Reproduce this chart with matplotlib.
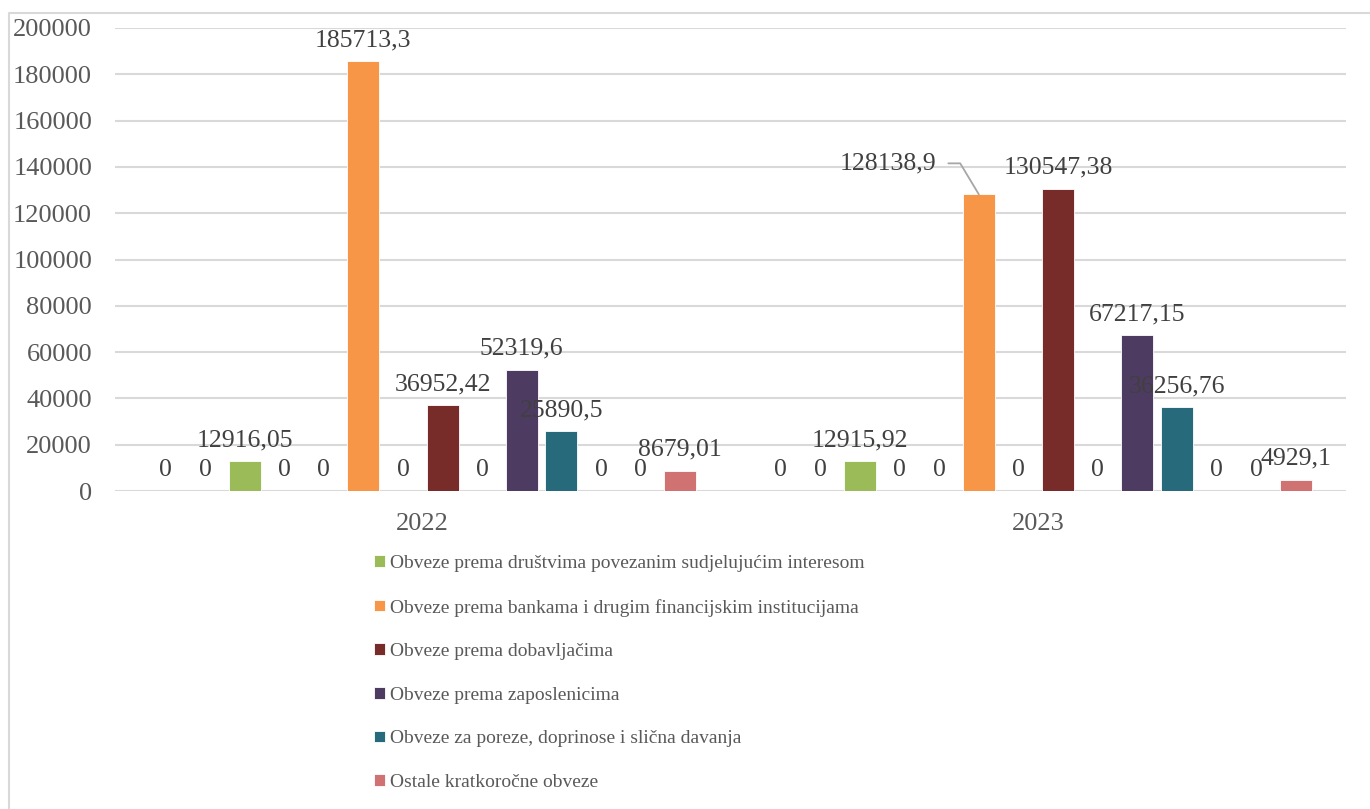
import numpy as np
import matplotlib
matplotlib.use("Agg")
import matplotlib.pyplot as plt
from matplotlib.lines import Line2D

plt.rcParams['font.family'] = ['Liberation Serif', 'DejaVu Serif']

# Data
years = ['2022', '2023']
series_names = [
    '', '',
    'Obveze prema društvima povezanim sudjelujućim interesom',
    '', '',
    'Obveze prema bankama i drugim financijskim institucijama',
    '',
    'Obveze prema dobavljačima',
    '',
    'Obveze prema zaposlenicima',
    'Obveze za poreze, doprinose i slična davanja',
    '', '',
    'Ostale kratkoročne obveze',
]
values_2022 = [0, 0, 12916.05, 0, 0, 185713.3, 0, 36952.42, 0, 52319.6, 25890.5, 0, 0, 8679.01]
values_2023 = [0, 0, 12915.92, 0, 0, 128138.9, 0, 130547.38, 0, 67217.15, 36256.76, 0, 0, 4929.1]
series_colors = ['#A5A5A5', '#A5A5A5', '#9BBB59', '#A5A5A5', '#A5A5A5', '#F79646', '#A5A5A5',
                 '#772C2A', '#A5A5A5', '#4D3B62', '#276A7C', '#A5A5A5', '#A5A5A5', '#D07271']
y_ticks = [0, 20000, 40000, 60000, 80000, 100000, 120000, 140000, 160000, 180000, 200000]

W, H = 1370, 809
fig = plt.figure(figsize=(W / 100, H / 100), dpi=100)
ax = fig.add_axes([115 / W, (H - 491) / H, (1346 - 115) / W, (491 - 28) / H])

text_col = '#595959'
label_col = '#404040'
n = len(series_names)
slot = 39.6 / 615.5
bar_w = 32 / 615.5
x = np.arange(len(years))

for j in range(n):
    vals = [values_2022[j], values_2023[j]]
    pos = x + (j - (n - 1) / 2) * slot
    name = series_names[j] if series_names[j] else '_nolegend_'
    ax.bar(pos, vals, width=bar_w, color=series_colors[j], label=name,
           edgecolor='white', linewidth=0.6, zorder=2)
    for k, (px, v) in enumerate(zip(pos, vals)):
        txt = str(v).replace('.', ',')
        if k == 1 and j == 5:
            # label moved to the left with leader line
            ax.annotate(txt, xy=(px, v), xytext=(-43, 31), textcoords='offset pixels',
                        ha='right', va='center', fontsize=18.5, color=label_col, zorder=3,
                        arrowprops=dict(arrowstyle='-', color='#A6A6A6', lw=1.3,
                                        connectionstyle='angle,angleA=0,angleB=121,rad=0',
                                        relpos=(1, 0.5), shrinkA=7, shrinkB=0))
        else:
            ax.annotate(txt, xy=(px, v), xytext=(0, 15), textcoords='offset pixels',
                        ha='center', va='baseline', fontsize=18.5, color=label_col, zorder=3)

ax.set_xlim(-0.5, 1.5)
ax.set_ylim(0, 200000)
ax.set_yticks(y_ticks)
ax.set_yticklabels([str(t) for t in y_ticks])
ax.set_xticks(x)
ax.set_xticklabels(years)
ax.tick_params(axis='both', length=0, labelsize=19, labelcolor=text_col)
ax.tick_params(axis='y', pad=16.5)
ax.tick_params(axis='x', pad=16)
ax.grid(axis='y', color='#D9D9D9', linewidth=1.5, zorder=0)
ax.set_axisbelow(True)
for s in ax.spines.values():
    s.set_visible(False)

handles, labels = ax.get_legend_handles_labels()
fig.legend(handles, labels, loc='upper left', bbox_to_anchor=(374 / W, (H - 555) / H),
           frameon=False, fontsize=14, labelcolor=text_col, borderpad=0, borderaxespad=0,
           handlelength=0.55, handleheight=0.55, handletextpad=0.25, labelspacing=1.37)

# outer chart border
fig.add_artist(Line2D([9 / W, 9 / W, 1.0], [0.0, (H - 12.5) / H, (H - 12.5) / H],
                      transform=fig.transFigure, color='#D9D9D9', linewidth=1.5))

fig.savefig('out.png', dpi=100)
